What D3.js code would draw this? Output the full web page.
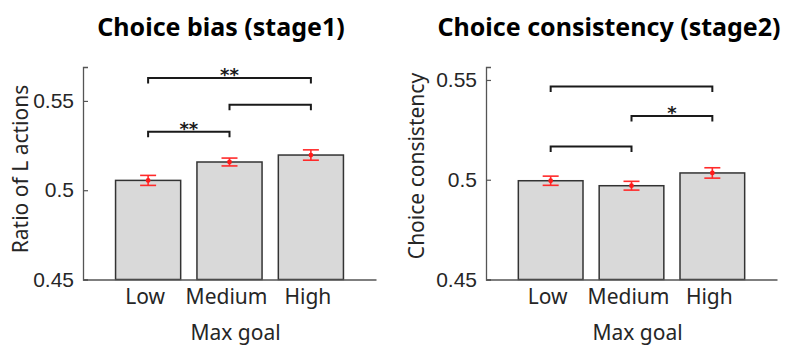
<!DOCTYPE html>
<html>
<head>
<meta charset="utf-8">
<script src="https://cdn.jsdelivr.net/npm/d3@7"></script>
<style>
  html, body { margin: 0; padding: 0; background: #fff; }
  svg { display: block; }
</style>
</head>
<body>
<svg id="chart" width="787" height="347"></svg>
<script>
// Categories shared by both panels
const categories = ["Low", "Medium", "High"];

// Panel 1: choice bias in stage 1
const biasMeans = [0.5055, 0.5158, 0.5197];
const biasSEM   = [0.0028, 0.0022, 0.0029];
const biasTicks = [0.45, 0.5, 0.55];
// Significance brackets: [from, to, height, label]
const biasBrackets = [
  ["Low", "High", 0.5629, "**"],
  ["Medium", "High", 0.5478, ""],
  ["Low", "Medium", 0.5328, "**"]
];

// Panel 2: choice consistency in stage 2
const consMeans = [0.4995, 0.4970, 0.5034];
const consSEM   = [0.0023, 0.0022, 0.0026];
const consTicks = [0.45, 0.5, 0.55];
const consBrackets = [
  ["Low", "High", 0.5467, ""],
  ["Medium", "High", 0.5320, "*"],
  ["Low", "Medium", 0.5166, ""]
];

const svg = d3.select("#chart");
const sansFont = "'Noto Sans', 'Open Sans', sans-serif";
const tickFont = "'Liberation Sans', Arial, sans-serif";

function drawPanel(opt) {
  const g = svg.append("g");

  const x = d3.scaleBand()
    .domain(categories)
    .range([opt.left, opt.right])
    .paddingInner(0.2)
    .paddingOuter(0.4);

  const y = d3.scaleLinear()
    .domain(opt.yDomain)
    .range([opt.bottom, opt.top]);

  const rows = categories.map((c, i) => ({ c, m: opt.means[i], e: opt.sem[i] }));

  // bars
  g.selectAll("rect.bar").data(rows).join("rect")
    .attr("class", "bar")
    .attr("x", d => x(d.c))
    .attr("width", x.bandwidth())
    .attr("y", d => y(d.m))
    .attr("height", d => y(opt.yDomain[0]) - y(d.m))
    .attr("fill", "#d9d9d9")
    .attr("stroke", "#333")
    .attr("stroke-width", 1.5);

  // error bars
  const cx = d => x(d.c) + x.bandwidth() / 2;
  const capW = 8;
  const eb = g.selectAll("g.err").data(rows).join("g").attr("class", "err")
    .attr("stroke", "#ff2a2a").attr("stroke-width", 1.6).attr("fill", "none");
  eb.append("line").attr("x1", cx).attr("x2", cx)
    .attr("y1", d => y(d.m - d.e)).attr("y2", d => y(d.m + d.e));
  eb.append("line").attr("x1", d => cx(d) - capW).attr("x2", d => cx(d) + capW)
    .attr("y1", d => y(d.m - d.e)).attr("y2", d => y(d.m - d.e));
  eb.append("line").attr("x1", d => cx(d) - capW).attr("x2", d => cx(d) + capW)
    .attr("y1", d => y(d.m + d.e)).attr("y2", d => y(d.m + d.e));
  g.selectAll("circle.pt").data(rows).join("circle")
    .attr("class", "pt")
    .attr("cx", cx).attr("cy", d => y(d.m)).attr("r", 2.4)
    .attr("fill", "#ff1a1a");

  // y axis (ticks pointing inward)
  const yAxis = g.append("g")
    .attr("transform", `translate(${opt.left},0)`)
    .call(d3.axisLeft(y).tickValues(opt.ticks).tickSize(-5).tickPadding(9)
      .tickFormat(d => d3.format("")(d)));
  yAxis.select(".domain").attr("stroke", "#555").attr("stroke-width", 1.3);
  yAxis.selectAll(".tick line").attr("stroke", "#555").attr("stroke-width", 1.2);
  yAxis.selectAll(".tick text")
    .attr("font-family", tickFont).attr("font-size", 21).attr("fill", "#262626");

  // x axis
  const xAxis = g.append("g")
    .attr("transform", `translate(0,${opt.bottom})`)
    .call(d3.axisBottom(x).tickSize(0).tickPadding(10).tickSizeOuter(0));
  xAxis.select(".domain").attr("stroke", "#555").attr("stroke-width", 1.3);
  xAxis.selectAll(".tick text")
    .attr("font-family", sansFont).attr("font-size", 21).attr("fill", "#262626")
    .attr("dx", -3);

  // significance brackets
  const tickH = 5.5;
  opt.brackets.forEach(([a, b, h, lab]) => {
    const x1 = x(a) + x.bandwidth() / 2, x2 = x(b) + x.bandwidth() / 2, yy = y(h);
    g.append("path")
      .attr("d", `M${x1},${yy + tickH}V${yy}H${x2}V${yy + tickH}`)
      .attr("fill", "none").attr("stroke", "#1a1a1a").attr("stroke-width", 2);
    if (lab) {
      g.append("text")
        .attr("x", (x1 + x2) / 2).attr("y", yy + 3)
        .attr("text-anchor", "middle")
        .attr("font-family", "'DejaVu Sans', sans-serif")
        .attr("font-weight", "bold")
        .attr("font-size", 18)
        .attr("fill", "#1a1a1a")
        .text(lab);
    }
  });

  // titles and axis labels
  g.append("text")
    .attr("x", opt.titleX).attr("y", 36)
    .attr("text-anchor", "middle")
    .attr("font-family", sansFont).attr("font-weight", "bold").attr("font-size", 25)
    .attr("fill", "#000")
    .text(opt.title);

  g.append("text")
    .attr("transform", `translate(${opt.yLabelX},${opt.yLabelY}) rotate(-90)`)
    .attr("text-anchor", "middle")
    .attr("font-family", sansFont).attr("font-size", 21).attr("fill", "#262626")
    .text(opt.yLabel);

  g.append("text")
    .attr("x", (opt.left + opt.right) / 2 + 6).attr("y", 340)
    .attr("text-anchor", "middle")
    .attr("font-family", sansFont).attr("font-size", 21).attr("fill", "#262626")
    .text("Max goal");
}

drawPanel({
  left: 83, right: 376, top: 67, bottom: 279.5,
  yDomain: [0.45, 0.569],
  means: biasMeans, sem: biasSEM, ticks: biasTicks, brackets: biasBrackets,
  title: "Choice bias (stage1)", titleX: 221,
  yLabel: "Ratio of L actions", yLabelX: 28, yLabelY: 169
});

drawPanel({
  left: 486, right: 777, top: 67, bottom: 279.5,
  yDomain: [0.45, 0.5565],
  means: consMeans, sem: consSEM, ticks: consTicks, brackets: consBrackets,
  title: "Choice consistency (stage2)", titleX: 609,
  yLabel: "Choice consistency", yLabelX: 424, yLabelY: 166
});
</script>
</body>
</html>
